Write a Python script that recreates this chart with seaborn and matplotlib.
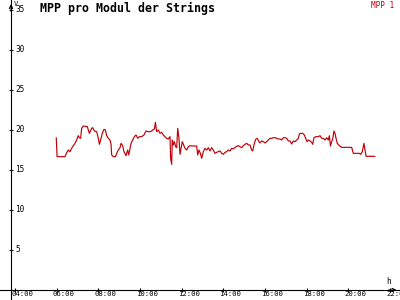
import numpy as np
import pandas as pd
import matplotlib
matplotlib.use("Agg")
import matplotlib.pyplot as plt
import seaborn as sns
from matplotlib.transforms import ScaledTranslation

# ---- data (hours of day, MPP value) ----
hours = [5.98, 6.02, 6.40, 6.48, 6.56, 6.64, 6.72, 6.80, 6.88, 6.96, 7.04, 7.09, 7.15, 7.20, 7.28,
         7.47, 7.57, 7.68, 7.73, 7.81, 7.92, 8.00, 8.05, 8.11, 8.19, 8.27, 8.34, 8.40, 8.48, 8.56,
         8.61, 8.64, 8.72, 8.82, 8.88, 8.96, 9.04, 9.09, 9.17, 9.23, 9.33, 9.36, 9.41, 9.46, 9.52,
         9.57, 9.65, 9.73, 9.81, 9.89, 9.97, 10.08, 10.19, 10.29, 10.40, 10.51, 10.61, 10.69, 10.74,
         10.80,
         10.88, 10.96, 11.04, 11.12, 11.20, 11.28, 11.36, 11.44, 11.47, 11.52, 11.55, 11.60, 11.65,
         11.71, 11.76, 11.81, 11.87, 11.92, 11.97, 12.03, 12.08, 12.16, 12.24, 12.32, 12.40, 12.48,
         12.72, 12.77, 12.83, 12.90, 12.96, 13.04, 13.12, 13.20, 13.28, 13.36, 13.44, 13.52, 13.60,
         13.68, 13.76, 13.84, 13.92, 14.00, 14.08, 14.16, 14.24, 14.32, 14.40, 14.48, 14.56, 14.64,
         14.72, 14.80, 14.88, 14.96, 15.04, 15.12, 15.20, 15.28, 15.36, 15.41, 15.47, 15.55, 15.63,
         15.71, 15.76, 15.84, 15.92, 16.00,
         16.08, 16.16, 16.24, 16.32, 16.40, 16.48, 16.56, 16.64, 16.72, 16.80, 16.88, 16.96, 17.04,
         17.12, 17.20, 17.28, 17.36, 17.44, 17.52, 17.60, 17.65, 17.71, 17.81, 17.89, 17.95, 18.02,
         18.08, 18.16, 18.24, 18.29, 18.35, 18.45, 18.56, 18.64, 18.72, 18.80, 18.88, 18.96, 19.04,
         19.09, 19.14, 19.20, 19.25, 19.31, 19.36, 19.41, 19.47, 19.57, 19.68, 20.16, 20.24, 20.53,
         20.59, 20.67, 20.75, 20.80, 20.85, 21.28]

mpp = [19.04, 16.67, 16.67, 17.17, 17.50, 17.29, 17.71, 18.04, 18.33, 18.75, 19.29, 19.04, 18.96, 20.21, 20.50,
       20.42, 19.58, 20.21, 20.29, 19.88, 19.79, 18.96, 18.21, 18.75, 19.58, 20.08, 20.00, 19.29, 18.96, 18.75,
       18.21, 16.88, 16.67, 16.67, 17.08, 17.50, 17.79, 18.33, 18.04, 17.29, 16.79, 17.08, 17.50, 16.88, 17.71,
       18.33, 18.75, 19.17, 19.38, 18.96, 19.17, 19.17, 19.38, 19.88, 19.79, 19.79, 20.00, 20.13, 20.96,
       19.79,
       20.00, 19.58, 19.71, 19.38, 19.17, 18.96, 18.88, 19.17, 16.46, 15.71, 18.75, 18.13, 18.54,
       17.92, 17.79, 20.21, 18.96, 16.96, 17.71, 18.54, 18.21, 17.71, 17.50, 17.92, 18.04, 18.00,
       18.00, 16.88, 17.50, 17.08, 16.46, 17.29, 17.71, 17.50, 17.79, 17.38, 17.79, 17.50, 17.08,
       17.21, 17.29, 17.38, 17.08, 16.96, 17.21, 17.29, 17.50, 17.38, 17.71, 17.63, 17.83, 17.96,
       18.04, 17.92, 17.79, 18.04, 18.21, 18.33, 18.13, 18.13, 17.50, 17.38, 18.13, 18.83, 18.96,
       18.54, 18.38, 18.63, 18.54, 18.38,
       18.54, 18.75, 18.96, 18.96, 19.04, 19.04, 18.96, 18.88, 18.88, 18.75, 19.04, 19.04, 18.96,
       18.63, 18.63, 18.25, 18.63, 18.54, 18.75, 18.96, 19.50, 19.58, 19.58, 19.38, 18.96, 18.54,
       18.75, 18.63, 18.46, 18.21, 19.04, 19.17, 19.17, 19.29, 18.96, 18.96, 18.75, 19.04, 18.75,
       19.29, 18.00, 18.54, 18.88, 19.88, 19.58, 18.96, 18.33, 18.04, 17.83, 17.83, 17.08, 17.08,
       16.96, 17.29, 18.33, 17.50, 16.71, 16.71]

series_name = "MPP 1"
chart_title = "MPP pro Modul der Strings"
x_ticks = [4, 6, 8, 10, 12, 14, 16, 18, 20, 22]
x_tick_labels = ["04:00", "06:00", "08:00", "10:00", "12:00", "14:00", "16:00", "18:00", "20:00", "22:00"]
y_ticks = [5, 10, 15, 20, 25, 30, 35]
y_tick_labels = ["5", "10", "15", "20", "25", "30", "35"]
x_unit = "h"
y_unit = "V"

# ---- style ----
sns.set_style("white")
plt.rcParams["font.family"] = ["DejaVu Sans Mono", "DejaVu Sans"]

DPI = 100
fig = plt.figure(figsize=(4, 3), dpi=DPI)
ax = fig.add_axes([0, 0, 1, 1])
ax.set_facecolor("white")

line_color = "#c00008"
df = pd.DataFrame({"hour": hours, "value": mpp, "series": series_name})
sns.lineplot(data=df, x="hour", y="value", color=line_color, linewidth=0.85,
             ax=ax, legend=False)

ax.set_xlim(3.28, 22.48)
ax.set_ylim(-1.25, 36.25)
ax.set_xlabel("")
ax.set_ylabel("")

axis_x = 3.808
for s in ["top", "right"]:
    ax.spines[s].set_visible(False)
ax.spines["left"].set_position(("data", axis_x))
ax.spines["bottom"].set_position(("data", 0))
for s in ["left", "bottom"]:
    ax.spines[s].set_color("black")
    ax.spines[s].set_linewidth(0.8)

ax.set_xticks(x_ticks)
ax.set_xticklabels(x_tick_labels)
ax.tick_params(axis="x", direction="inout", length=3.5, width=0.8, pad=0,
               labelsize=5.2, colors="black", bottom=True)
off = ScaledTranslation(-4 / DPI, 1 / DPI, fig.dpi_scale_trans)
for lab in ax.get_xticklabels():
    lab.set_ha("left")
    lab.set_transform(lab.get_transform() + off)

ax.set_yticks(y_ticks)
ax.set_yticklabels([])
ax.tick_params(axis="y", direction="inout", length=3.5, width=0.8, left=True)
yoff = ScaledTranslation(4 / DPI, 0, fig.dpi_scale_trans)
for v, t in zip(y_ticks, y_tick_labels):
    ax.text(axis_x, v, t, transform=ax.transData + yoff, ha="left", va="center",
            fontsize=5.6, color="black")

# axis arrows
ax.annotate("", xy=(axis_x, 36.1), xytext=(axis_x, 34.5),
            arrowprops=dict(arrowstyle="->", color="black", lw=0.8, mutation_scale=6))
ax.annotate("", xy=(22.45, 0), xytext=(21.8, 0),
            arrowprops=dict(arrowstyle="->", color="black", lw=0.8, mutation_scale=6))

# unit labels
fig.text(14 / 400, 1 - 1 / 300, y_unit, ha="left", va="top", fontsize=5, color="black")
fig.text(386 / 400, 1 - 277 / 300, x_unit, ha="left", va="top", fontsize=5.6, color="black")

# title and series label
fig.text(40 / 400, 1 - 2 / 300, chart_title, ha="left", va="top", fontsize=8.4,
         fontweight="bold", color="black")
fig.text(394 / 400, 1 - 0.5 / 300, series_name, ha="right", va="top", fontsize=5.6,
         color=line_color)

fig.savefig("out.png", dpi=DPI, facecolor="white")
